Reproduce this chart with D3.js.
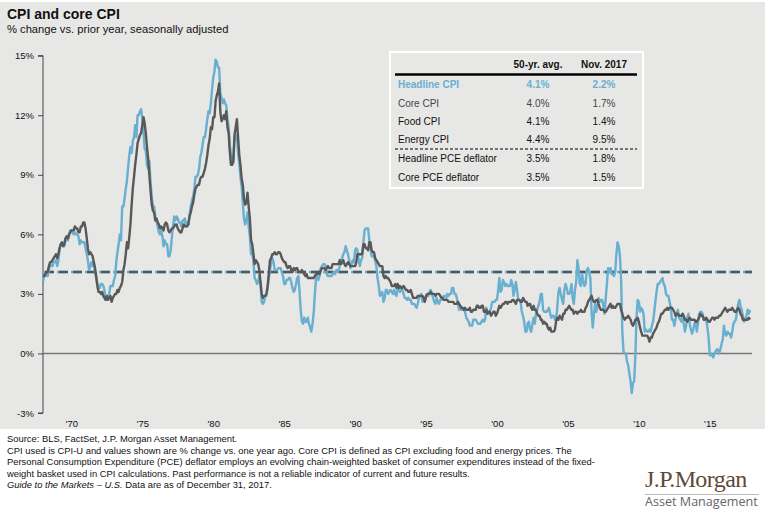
<!DOCTYPE html>
<html>
<head>
<meta charset="utf-8">
<script src="https://cdn.jsdelivr.net/npm/d3@7"></script>
<style>
  body { margin: 0; background: #fff; }
  text { font-family: "Liberation Sans", Arial, sans-serif; }
</style>
</head>
<body>
<svg id="chart" width="768" height="517"></svg>
<script>
// monthly y/y % change, Jan 1968 .. Nov 2017 (one row per year)
var headlineCpi = [
  3.6, 4.0, 4.0, 3.9, 3.9, 4.2, 4.5, 4.4, 4.4, 4.6, 4.6, 4.7,
  4.4, 4.7, 5.2, 5.5, 5.5, 5.5, 5.4, 5.7, 5.7, 5.7, 5.9, 6.2,
  6.2, 6.1, 6.0, 6.1, 6.0, 6.0, 5.9, 5.5, 5.7, 5.6, 5.6, 5.6,
  5.3, 5.0, 4.7, 4.2, 4.4, 4.6, 4.4, 4.6, 4.1, 3.8, 3.5, 3.4,
  3.3, 3.5, 3.5, 3.4, 3.2, 2.7, 2.9, 2.9, 3.0, 3.4, 3.4, 3.4,
  3.7, 3.9, 4.6, 5.1, 5.5, 6.0, 5.7, 7.4, 7.4, 7.8, 8.3, 8.7,
  9.4, 10.0, 10.4, 10.1, 10.7, 10.9, 11.5, 10.9, 12.0, 12.0, 12.2, 12.3,
  11.8, 11.2, 10.3, 10.2, 9.5, 9.3, 9.7, 8.6, 7.9, 7.4, 7.4, 6.9,
  6.7, 6.4, 6.1, 6.0, 6.2, 5.9, 5.4, 5.7, 5.5, 5.5, 4.9, 4.9,
  5.2, 5.9, 6.4, 6.9, 6.7, 6.9, 6.8, 6.6, 6.6, 6.4, 6.7, 6.7,
  6.8, 6.4, 6.6, 6.5, 7.0, 7.4, 7.7, 7.9, 8.3, 8.9, 8.9, 9.0,
  9.3, 9.9, 10.1, 10.5, 10.9, 10.9, 11.3, 11.8, 12.2, 12.1, 12.6, 13.3,
  13.9, 14.2, 14.8, 14.7, 14.4, 14.4, 13.1, 12.9, 12.6, 12.8, 12.6, 12.5,
  11.8, 11.4, 10.5, 10.0, 9.8, 9.6, 10.8, 10.8, 11.0, 10.1, 9.6, 8.9,
  8.4, 7.6, 6.8, 6.5, 6.7, 7.1, 6.4, 5.9, 5.0, 5.1, 4.6, 3.8,
  3.7, 3.5, 3.6, 3.9, 3.5, 2.6, 2.5, 2.6, 2.9, 2.9, 3.3, 3.8,
  4.2, 4.6, 4.8, 4.6, 4.2, 4.2, 4.2, 4.3, 4.3, 4.3, 4.1, 3.9,
  3.5, 3.5, 3.7, 3.7, 3.8, 3.8, 3.6, 3.3, 3.1, 3.2, 3.5, 3.8,
  3.9, 3.1, 2.2, 1.6, 1.5, 1.8, 1.6, 1.6, 1.8, 1.5, 1.3, 1.1,
  1.5, 2.1, 3.0, 3.8, 3.9, 3.7, 3.9, 4.3, 4.4, 4.5, 4.5, 4.4,
  4.0, 3.9, 3.9, 3.9, 3.9, 4.0, 4.1, 4.0, 4.2, 4.2, 4.2, 4.4,
  4.7, 4.8, 5.0, 5.1, 5.4, 5.2, 5.0, 4.7, 4.3, 4.5, 4.7, 4.6,
  5.2, 5.3, 5.2, 4.7, 4.4, 4.7, 4.8, 5.6, 6.2, 6.3, 6.3, 6.3,
  5.7, 5.3, 4.9, 4.9, 4.9, 4.7, 4.4, 3.8, 3.4, 2.9, 3.0, 3.1,
  2.6, 2.8, 3.2, 3.2, 3.0, 3.1, 3.2, 3.1, 3.0, 3.2, 3.0, 2.9,
  3.3, 3.2, 3.1, 3.2, 3.2, 3.0, 2.8, 2.8, 2.7, 2.8, 2.7, 2.7,
  2.5, 2.5, 2.5, 2.4, 2.3, 2.5, 2.8, 2.9, 3.0, 2.6, 2.7, 2.7,
  2.8, 2.9, 2.9, 3.1, 3.2, 3.0, 2.8, 2.6, 2.5, 2.8, 2.6, 2.5,
  2.7, 2.7, 2.8, 2.9, 2.9, 2.8, 3.0, 2.9, 3.0, 3.0, 3.3, 3.3,
  3.0, 3.0, 2.8, 2.5, 2.2, 2.3, 2.2, 2.2, 2.2, 2.1, 1.8, 1.7,
  1.6, 1.4, 1.4, 1.4, 1.7, 1.7, 1.7, 1.6, 1.5, 1.5, 1.5, 1.6,
  1.7, 1.6, 1.7, 2.3, 2.1, 2.0, 2.1, 2.3, 2.6, 2.6, 2.6, 2.7,
  2.7, 3.2, 3.8, 3.1, 3.2, 3.7, 3.6, 3.4, 3.5, 3.4, 3.4, 3.4,
  3.7, 3.5, 2.9, 3.2, 3.6, 3.2, 2.7, 2.7, 2.6, 2.1, 1.9, 1.6,
  1.1, 1.1, 1.5, 1.6, 1.2, 1.1, 1.5, 1.8, 1.5, 2.0, 2.2, 2.4,
  2.6, 3.0, 3.0, 2.2, 2.1, 2.1, 2.1, 2.2, 2.3, 2.0, 1.8, 1.9,
  1.9, 1.7, 1.7, 2.3, 3.1, 3.3, 3.0, 2.7, 2.5, 3.2, 3.5, 3.3,
  3.0, 3.0, 3.1, 3.5, 2.8, 2.5, 3.2, 3.6, 4.7, 4.3, 3.5, 3.4,
  4.0, 3.6, 3.4, 3.5, 4.2, 4.3, 4.1, 3.8, 2.1, 1.3, 2.0, 2.5,
  2.1, 2.4, 2.8, 2.6, 2.7, 2.7, 2.4, 2.0, 2.8, 3.5, 4.3, 4.1,
  4.3, 4.0, 4.0, 3.9, 4.1, 5.0, 5.6, 5.4, 4.9, 3.7, 1.1, 0.1,
  0.0, 0.0, -0.4, -0.6, -1.0, -1.4, -2.0, -1.5, -1.4, -0.2, 1.8, 2.7,
  2.6, 2.1, 2.3, 2.2, 2.0, 1.1, 1.2, 1.1, 1.1, 1.2, 1.1, 1.4,
  1.6, 2.1, 2.6, 3.1, 3.5, 3.5, 3.6, 3.7, 3.8, 3.5, 3.4, 3.0,
  2.9, 2.9, 2.6, 2.3, 1.7, 1.7, 1.4, 1.7, 2.0, 2.2, 1.8, 1.7,
  1.6, 2.0, 1.5, 1.1, 1.4, 1.8, 2.0, 1.5, 1.2, 1.0, 1.2, 1.5,
  1.6, 1.1, 1.5, 2.0, 2.1, 2.1, 2.0, 1.7, 1.7, 1.7, 1.3, 0.8,
  -0.1, 0.0, -0.1, -0.2, 0.0, 0.1, 0.2, 0.2, 0.0, 0.2, 0.5, 0.7,
  1.4, 1.0, 0.9, 1.1, 1.0, 1.0, 0.8, 1.1, 1.5, 1.6, 1.7, 2.1,
  2.5, 2.7, 2.4, 2.2, 1.9, 1.6, 1.7, 1.9, 2.2, 2.0, 2.2
];

var coreCpi = [
  3.9, 3.9, 4.0, 4.1, 4.1, 4.4, 4.6, 4.6, 4.7, 4.8, 4.9, 5.0,
  4.8, 5.0, 5.3, 5.5, 5.6, 5.4, 5.5, 5.8, 5.9, 5.8, 6.0, 6.1,
  6.2, 6.2, 6.2, 6.4, 6.3, 6.3, 6.1, 6.1, 6.4, 6.4, 6.6, 6.6,
  6.3, 5.8, 5.3, 5.0, 5.1, 5.0, 4.9, 4.6, 4.3, 3.9, 3.4, 3.1,
  3.1, 3.0, 3.1, 2.9, 2.8, 2.7, 2.9, 2.7, 2.8, 2.9, 2.6, 2.8,
  2.9, 3.0, 3.0, 3.2, 3.1, 3.3, 3.4, 3.6, 4.2, 4.5, 5.0, 5.6,
  5.3, 5.9, 6.5, 7.5, 8.3, 8.9, 9.5, 10.0, 10.6, 10.8, 11.0, 11.1,
  11.5, 11.9, 11.6, 11.1, 10.4, 9.8, 9.0, 8.2, 7.5, 7.2, 7.1, 6.7,
  6.8, 6.6, 6.5, 6.3, 6.4, 6.3, 6.2, 6.5, 6.6, 6.5, 6.2, 6.1,
  6.2, 6.3, 6.3, 6.4, 6.5, 6.5, 6.3, 6.2, 6.1, 6.1, 6.3, 6.5,
  6.4, 6.4, 6.4, 6.5, 6.9, 7.1, 7.4, 7.6, 8.0, 8.3, 8.4, 8.5,
  8.5, 8.8, 8.9, 8.9, 9.1, 9.3, 9.6, 10.0, 10.5, 10.8, 11.4, 11.3,
  11.9, 11.9, 12.7, 13.0, 13.2, 13.6, 12.2, 11.7, 11.8, 12.0, 11.8, 12.2,
  11.4, 11.1, 10.2, 9.5, 9.5, 9.7, 11.0, 11.4, 11.8, 10.9, 10.0, 9.5,
  8.8, 8.5, 7.8, 7.5, 7.6, 8.1, 7.4, 6.8, 5.7, 5.5, 5.0, 4.5,
  4.7, 4.6, 4.5, 4.2, 3.6, 3.0, 2.8, 2.9, 2.9, 3.0, 3.4, 4.0,
  4.7, 4.8, 5.0, 5.0, 5.1, 5.0, 5.0, 5.1, 5.1, 5.0, 4.8, 4.7,
  4.6, 4.6, 4.4, 4.3, 4.4, 4.4, 4.2, 4.1, 4.3, 4.2, 4.3, 4.3,
  4.1, 4.1, 4.1, 4.2, 4.1, 4.0, 3.9, 4.0, 3.8, 3.8, 3.8, 3.8,
  3.8, 3.8, 3.9, 4.0, 4.0, 4.1, 4.0, 4.2, 4.3, 4.3, 4.3, 4.2,
  4.3, 4.4, 4.3, 4.3, 4.3, 4.5, 4.5, 4.5, 4.5, 4.5, 4.5, 4.7,
  4.5, 4.6, 4.7, 4.5, 4.4, 4.5, 4.6, 4.5, 4.4, 4.4, 4.4, 4.4,
  4.4, 4.6, 5.0, 5.0, 5.0, 5.0, 5.0, 5.5, 5.5, 5.3, 5.3, 5.2,
  5.6, 5.6, 5.2, 5.1, 5.1, 4.8, 4.7, 4.6, 4.5, 4.4, 4.4, 4.4,
  3.9, 3.8, 3.9, 3.8, 3.8, 3.7, 3.6, 3.4, 3.4, 3.4, 3.5, 3.3,
  3.5, 3.3, 3.4, 3.3, 3.3, 3.4, 3.3, 3.2, 3.2, 3.1, 3.1, 3.2,
  3.0, 2.8, 2.8, 2.8, 2.8, 2.9, 2.9, 2.9, 2.9, 2.9, 2.8, 2.6,
  2.9, 3.0, 3.0, 3.0, 3.1, 3.0, 3.0, 3.0, 2.9, 3.0, 3.0, 3.0,
  2.9, 2.8, 2.8, 2.7, 2.7, 2.7, 2.7, 2.6, 2.6, 2.6, 2.6, 2.6,
  2.5, 2.5, 2.5, 2.6, 2.5, 2.4, 2.3, 2.3, 2.2, 2.3, 2.2, 2.2,
  2.2, 2.3, 2.1, 2.1, 2.2, 2.2, 2.2, 2.4, 2.4, 2.3, 2.3, 2.4,
  2.4, 2.1, 2.1, 2.2, 2.0, 2.1, 2.1, 1.9, 2.0, 2.1, 2.1, 1.9,
  2.0, 2.2, 2.4, 2.3, 2.4, 2.5, 2.5, 2.6, 2.6, 2.5, 2.6, 2.6,
  2.6, 2.7, 2.7, 2.6, 2.5, 2.7, 2.7, 2.7, 2.6, 2.6, 2.8, 2.7,
  2.6, 2.6, 2.4, 2.5, 2.5, 2.3, 2.2, 2.4, 2.2, 2.2, 2.0, 1.9,
  1.9, 1.7, 1.7, 1.5, 1.6, 1.5, 1.5, 1.3, 1.2, 1.3, 1.1, 1.1,
  1.1, 1.2, 1.6, 1.8, 1.7, 1.9, 1.8, 1.7, 2.0, 2.0, 2.2, 2.2,
  2.3, 2.4, 2.3, 2.2, 2.2, 2.0, 2.1, 2.1, 2.0, 2.1, 2.1, 2.2,
  2.1, 2.1, 2.1, 2.3, 2.4, 2.6, 2.7, 2.8, 2.9, 2.7, 2.6, 2.6,
  2.7, 2.7, 2.5, 2.3, 2.2, 2.2, 2.2, 2.1, 2.1, 2.2, 2.3, 2.4,
  2.5, 2.3, 2.4, 2.3, 2.3, 2.4, 2.5, 2.5, 2.5, 2.2, 2.0, 1.8,
  1.7, 1.8, 1.8, 1.9, 1.8, 1.7, 1.5, 1.4, 1.5, 1.7, 1.7, 1.8,
  1.6, 1.3, 1.1, 0.9, 0.9, 0.9, 0.9, 0.9, 0.8, 0.6, 0.8, 0.8,
  1.0, 1.1, 1.2, 1.3, 1.5, 1.6, 1.8, 2.0, 2.0, 2.1, 2.2, 2.2,
  2.3, 2.2, 2.3, 2.3, 2.3, 2.2, 2.1, 1.9, 2.0, 2.0, 1.9, 1.9,
  1.9, 2.0, 1.9, 1.7, 1.7, 1.6, 1.7, 1.8, 1.7, 1.7, 1.7, 1.7,
  1.6, 1.6, 1.7, 1.8, 2.0, 1.9, 1.9, 1.7, 1.7, 1.8, 1.7, 1.6,
  1.6, 1.7, 1.8, 1.8, 1.7, 1.8, 1.8, 1.8, 1.9, 1.9, 2.0, 2.1,
  2.2, 2.3, 2.2, 2.1, 2.2, 2.2, 2.2, 2.3, 2.2, 2.1, 2.1, 2.2,
  2.3, 2.2, 2.0, 1.9, 1.7, 1.7, 1.7, 1.7, 1.7, 1.8, 1.7
];

var yTicks = [-3, 0, 3, 6, 9, 12, 15];
var xTickYears = [1970, 1975, 1980, 1985, 1990, 1995, 2000, 2005, 2010, 2015];

// table
var tableRows = ["Headline CPI", "Core CPI", "Food CPI", "Energy CPI", "Headline PCE deflator", "Core PCE deflator"];
var avg50 = [4.1, 4.0, 4.1, 4.4, 3.5, 3.5];
var nov2017 = [2.2, 1.7, 1.4, 9.5, 1.8, 1.5];

var footnotes = [
  "Source: BLS, FactSet, J.P. Morgan Asset Management.",
  "CPI used is CPI-U and values shown are % change vs. one year ago. Core CPI is defined as CPI excluding food and energy prices. The",
  "Personal Consumption Expenditure (PCE) deflator employs an evolving chain-weighted basket of consumer expenditures instead of the fixed-",
  "weight basket used in CPI calculations. Past performance is not a reliable indicator of current and future results."
];

var BLUE = "#69afd0", DARK = "#585858";

var svg = d3.select("#chart");

svg.append("rect").attr("x", 0).attr("y", 2).attr("width", 765).attr("height", 427).attr("fill", "#e7e7e6");

svg.append("text").attr("x", 7).attr("y", 19).attr("font-size", 14).attr("font-weight", "bold").attr("fill", "#111").text("CPI and core CPI");
svg.append("text").attr("x", 7).attr("y", 33).attr("font-size", 11.2).attr("fill", "#111").text("% change vs. prior year, seasonally adjusted");

var start = new Date(1968, 0, 1);
var dates = headlineCpi.map(function(d, i) { return d3.timeMonth.offset(start, i) });

var x = d3.scaleTime()
  .domain([start, dates[dates.length - 1]])
  .range([43, 750]);
var y = d3.scaleLinear().domain([-3, 15]).range([413, 55.7]);

// y axis
var yAxis = svg.append("g").attr("transform", "translate(43,0)")
  .call(d3.axisLeft(y).tickValues(yTicks).tickSize(5).tickPadding(4).tickFormat(function(d){ return d + "%" }));
yAxis.select(".domain").attr("stroke", "#444").attr("d", "M-5," + y(15) + "H0V" + y(-3) + "H-5");
yAxis.selectAll(".tick line").attr("stroke", "#444");
yAxis.selectAll("text").attr("font-size", 9.5).attr("fill", "#111");

// x labels (no axis line)
var xAxis = svg.append("g").attr("transform", "translate(0,413)")
  .call(d3.axisBottom(x).tickValues(xTickYears.map(function(yr){ return new Date(yr, 0, 1) })).tickSize(0).tickPadding(7)
    .tickFormat(function(d){ return "'" + d3.timeFormat("%y")(d) }));
xAxis.select(".domain").remove();
xAxis.selectAll("text").attr("font-size", 9.5).attr("fill", "#111");

// zero line
svg.append("line").attr("x1", 43).attr("x2", 752).attr("y1", y(0)).attr("y2", y(0)).attr("stroke", "#777").attr("stroke-width", 1.5);

// 50yr average dashed
svg.append("line").attr("x1", 43).attr("x2", 752).attr("y1", y(avg50[0])).attr("y2", y(avg50[0]))
  .attr("stroke", BLUE).attr("stroke-width", 2.5).attr("stroke-dasharray", "10,4");
svg.append("line").attr("x1", 43).attr("x2", 752).attr("y1", y(avg50[0])).attr("y2", y(avg50[0]))
  .attr("stroke", "#4a5a63").attr("stroke-width", 2.5).attr("stroke-dasharray", "9,5").attr("stroke-dashoffset", -2);

var line = d3.line().x(function(d){ return x(d[0]) }).y(function(d){ return y(d[1]) });

svg.append("path").datum(dates.map(function(d, i){ return [d, headlineCpi[i]] }))
  .attr("d", line).attr("fill", "none").attr("stroke", BLUE).attr("stroke-width", 2.4).attr("stroke-linejoin", "round");
svg.append("path").datum(dates.map(function(d, i){ return [d, coreCpi[i]] }))
  .attr("d", line).attr("fill", "none").attr("stroke", DARK).attr("stroke-width", 2.4).attr("stroke-linejoin", "round");

// table box
var tb = svg.append("g");
tb.append("rect").attr("x", 390).attr("y", 52).attr("width", 253).attr("height", 136)
  .attr("fill", "#e7e7e6").attr("stroke", "#fff").attr("stroke-width", 2);
tb.append("text").attr("x", 538).attr("y", 68).attr("text-anchor", "middle").attr("font-size", 10).attr("font-weight", "bold").attr("fill", "#111").text("50-yr. avg.");
tb.append("text").attr("x", 604).attr("y", 68).attr("text-anchor", "middle").attr("font-size", 10).attr("font-weight", "bold").attr("fill", "#111").text("Nov. 2017");
tb.append("line").attr("x1", 395).attr("x2", 637).attr("y1", 74.5).attr("y2", 74.5).attr("stroke", "#000").attr("stroke-width", 2.5);
tb.append("line").attr("x1", 395).attr("x2", 637).attr("y1", 149).attr("y2", 149).attr("stroke", "#000").attr("stroke-width", 1.2).attr("stroke-dasharray", "3,2");

var rowY = [88, 107, 125, 143, 162, 181];
tableRows.forEach(function(r, i) {
  var col = i == 0 ? BLUE : (i == 1 ? "#444" : "#111");
  var g = tb.append("g").attr("fill", col).attr("font-size", 10).attr("font-weight", i == 0 ? "bold" : "normal");
  g.append("text").attr("x", 398).attr("y", rowY[i]).text(r);
  g.append("text").attr("x", 538).attr("y", rowY[i]).attr("text-anchor", "middle").text(avg50[i].toFixed(1) + "%");
  g.append("text").attr("x", 604).attr("y", rowY[i]).attr("text-anchor", "middle").text(nov2017[i].toFixed(1) + "%");
});

// footnotes
footnotes.forEach(function(t, i) {
  svg.append("text").attr("x", 7).attr("y", 442 + i * 11.5).attr("font-size", 9.4).attr("fill", "#111").text(t);
});
var last = svg.append("text").attr("x", 7).attr("y", 442 + 4 * 11.5).attr("font-size", 9.4).attr("fill", "#111");
last.append("tspan").attr("font-style", "italic").text("Guide to the Markets \u2013 U.S.");
last.append("tspan").text(" Data are as of December 31, 2017.");

// logo (style() so the css rule for text doesn't win)
svg.append("text").attr("x", 645).attr("y", 487).style("font-family", "'Liberation Serif', 'Times New Roman', serif")
  .attr("font-size", 24).attr("letter-spacing", -0.6).attr("fill", "#5f4937").text("J.P.Morgan");
svg.append("line").attr("x1", 645).attr("x2", 759).attr("y1", 494.5).attr("y2", 494.5).attr("stroke", "#aaa").attr("stroke-width", 0.8);
svg.append("text").attr("x", 645).attr("y", 506).attr("font-size", 12.6).attr("fill", "#666")
  .style("font-family", "'Open Sans', 'Liberation Sans', sans-serif").text("Asset Management");
</script>
</body>
</html>
